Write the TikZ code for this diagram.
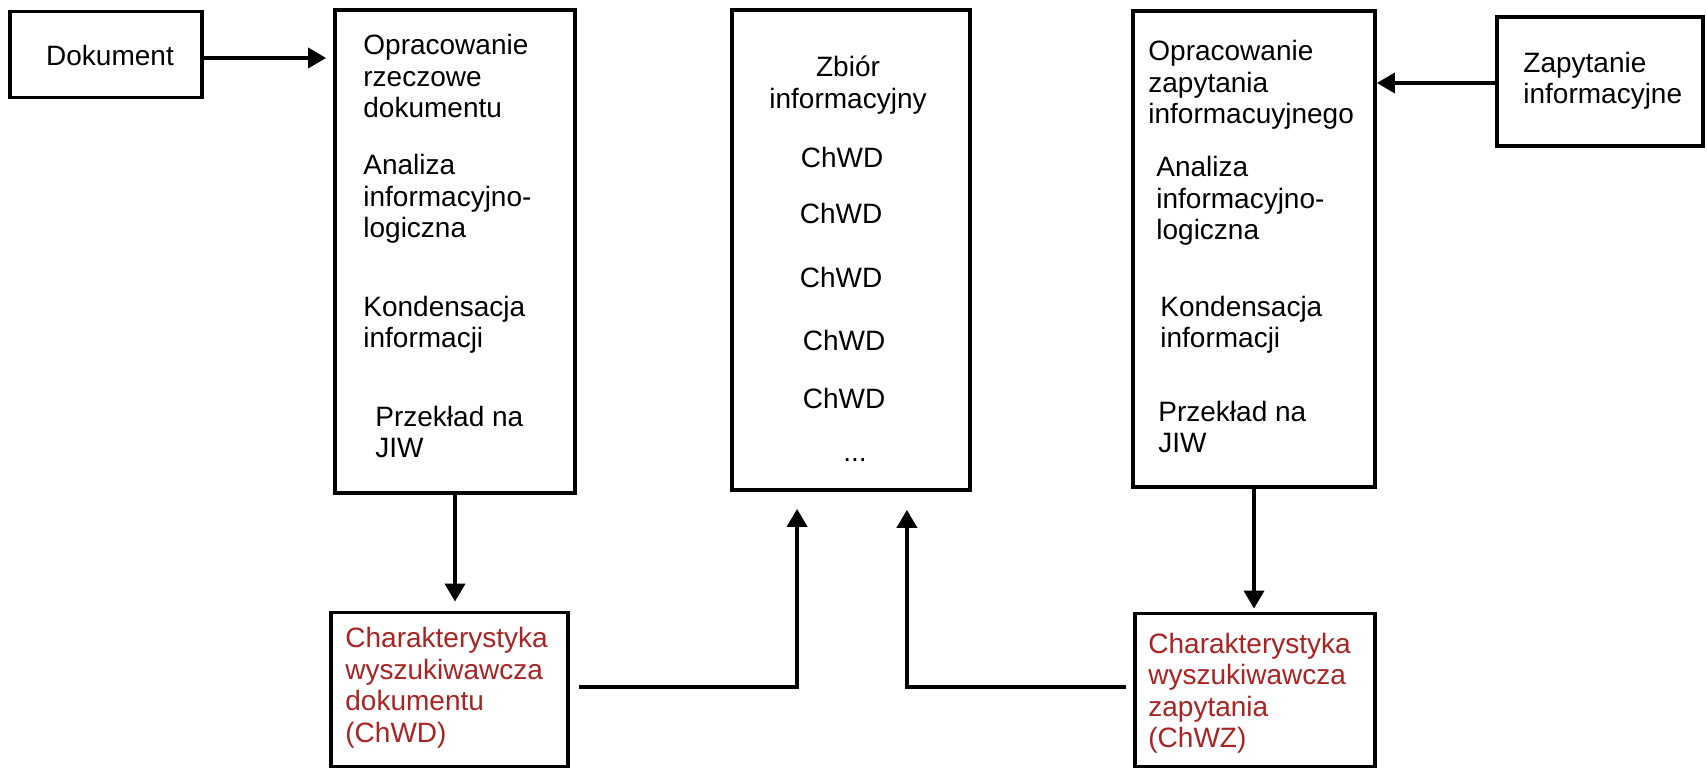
\documentclass[tikz,border=0pt]{standalone}
\usepackage{fontspec}
\setmainfont{Liberation Sans}
\usetikzlibrary{arrows.meta}
\definecolor{chwred}{RGB}{170,35,35}
\tikzstyle{block}=[draw, line width=1.9pt, inner sep=0]
\tikzstyle{blocktext}=[inner sep=0, align=left, font=\fontsize{14}{15.75}\selectfont]
\tikzstyle{redtext}=[blocktext, text=chwred]
\tikzstyle{flow}=[line width=1.9pt, -{Triangle[length=9pt, width=10pt]}]

\begin{document}
\begin{tikzpicture}[x=0.5pt, y=-0.5pt]
    \useasboundingbox (0, 0) rectangle (1707, 769);

    \node[block, minimum width=96pt, minimum height=43pt] (dok) at (106, 54.5) {};
    \node[block, minimum width=120pt, minimum height=241.5pt] (opr_dok) at (455, 251.5) {};
    \node[block, minimum width=119pt, minimum height=240pt] (zbior) at (851, 250) {};
    \node[block, minimum width=121pt, minimum height=238pt] (opr_zap) at (1254, 249) {};
    \node[block, minimum width=103pt, minimum height=64.5pt] (zap) at (1600, 81.5) {};
    \node[block, minimum width=118.5pt, minimum height=77pt] (chwd) at (449.5, 689.5) {};
    \node[block, minimum width=120pt, minimum height=76.5pt] (chwz) at (1255, 690) {};

    \node[blocktext] (dok_text) at (110, 55) {Dokument};
    \node[blocktext, anchor=west] (opr_dok_a) at (363, 76) {Opracowanie\\rzeczowe\\dokumentu};
    \node[blocktext, anchor=west] (opr_dok_b) at (363, 199) {Analiza\\informacyjno-\\logiczna};
    \node[blocktext, anchor=west] (opr_dok_c) at (363, 325) {Kondensacja\\informacji};
    \node[blocktext, anchor=west] (opr_dok_d) at (375, 432) {Przekład na\\JIW};

    \node[blocktext, align=center] (zbior_title) at (848, 85) {Zbiór\\informacyjny};
    \foreach \x/\y [count=\i] in {842/157, 841/213, 841/277, 844/340, 844/398}
        \node[blocktext] (zbior_\i) at (\x, \y) {ChWD};
    \node[blocktext] (zbior_dots) at (855, 460) {...};

    \node[blocktext, anchor=west] (opr_zap_a) at (1148, 85) {Opracowanie\\zapytania\\informacuyjnego};
    \node[blocktext, anchor=west] (opr_zap_b) at (1156, 201) {Analiza\\informacyjno-\\logiczna};
    \node[blocktext, anchor=west] (opr_zap_c) at (1160, 325) {Kondensacja\\informacji};
    \node[blocktext, anchor=west] (opr_zap_d) at (1158, 427) {Przekład na\\JIW};

    \node[blocktext, anchor=west] (zap_text) at (1523, 81) {Zapytanie\\informacyjne};
    \node[redtext, anchor=west] (chwd_text) at (345, 688) {Charakterystyka\\wyszukiwawcza\\dokumentu\\(ChWD)};
    \node[redtext, anchor=west] (chwz_text) at (1148, 693) {Charakterystyka\\wyszukiwawcza\\zapytania\\(ChWZ)};

    \draw[flow, shorten >=3.5pt] (dok.east |- 0, 58) to (opr_dok.west |- 0, 58);
    \draw[flow] (zap.west |- 0, 83) to (opr_zap.east |- 0, 83);
    \draw[flow, shorten >=4.5pt] (opr_dok.south) to (opr_dok.south |- chwd.north);
    \draw[flow, shorten >=1.5pt] (opr_zap.south) to (opr_zap.south |- chwz.north);
    \draw[flow, shorten <=4.5pt, shorten >=8.5pt] (chwd.east |- 0, 687) -| ([xshift=33.5pt]zbior.south west);
    \draw[flow, shorten <=3.5pt, shorten >=9pt] (chwz.west |- 0, 687) -| ([xshift=-32.5pt]zbior.south east);
\end{tikzpicture}
\end{document}
